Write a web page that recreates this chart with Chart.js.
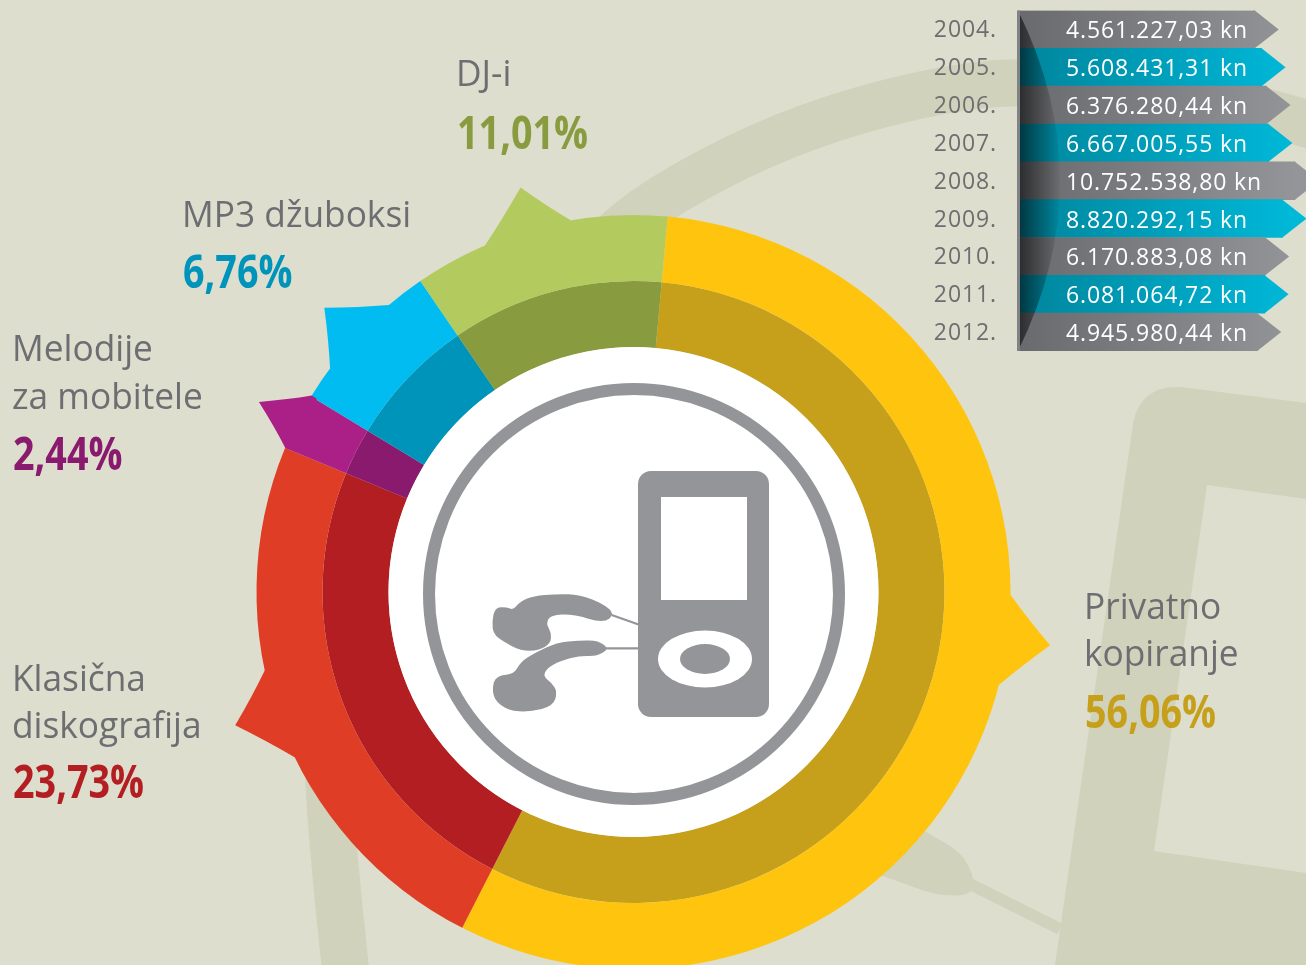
<!DOCTYPE html>
<html>
<head>
<meta charset="utf-8">
<script src="https://cdn.jsdelivr.net/npm/chart.js@4"></script>
<style>
  html, body { margin: 0; padding: 0; width: 1306px; height: 965px; overflow: hidden; background: #dddecd; }
  canvas { position: absolute; display: block; }
</style>
</head>
<body>
<canvas id="shareChart" width="1306" height="965" style="left:0;top:0"></canvas>
<canvas id="yearChart" width="376" height="361" style="left:930px;top:0"></canvas>
<script>
const categories = [['Privatno', 'kopiranje'], ['Klasična', 'diskografija'], ['Melodije', 'za mobitele'], ['MP3 džuboksi'], ['DJ-i']];
const shares = [56.06, 23.73, 2.44, 6.76, 11.01];
const years = ['2004.', '2005.', '2006.', '2007.', '2008.', '2009.', '2010.', '2011.', '2012.'];
const amounts = [4561227.03, 5608431.31, 6376280.44, 6667005.55, 10752538.80, 8820292.15, 6170883.08, 6081064.72, 4945980.44];

const lightColors = ['#ffc40d', '#e03d26', '#ab2087', '#00bcf1', '#b2ca5e'];
const darkColors = ['#c6a01b', '#b31e23', '#891a6e', '#0094ba', '#889b3e'];
const textGrey = '#6d6e71';
const iconGrey = '#939598';
const shapeColor = '#d1d2bc';
const bgColor = '#dddecd';

// spikes on the outer ring, clock degrees
const spikeFrom = [90.4, 244, 292.5, 306.4, 336.8];
const spikeTip = [97.3, 251.5, 296.9, 312.6, 344.4];
const spikeTo = [104.3, 258, 301.4, 319.6, 350.4];
const labelPos = [[1084, 619, 47, 728], [12, 691, 47, 798], [12, 361, 48, 470], [182, 227, 0, 288], [456, 86, 0, 149]];

function smoothOpen(ctx, pts) {
  ctx.moveTo(pts[0][0], pts[0][1]);
  for (let i = 1; i < pts.length - 1; i++) {
    ctx.quadraticCurveTo(pts[i][0], pts[i][1], (pts[i][0] + pts[i + 1][0]) / 2, (pts[i][1] + pts[i + 1][1]) / 2);
  }
  const last = pts[pts.length - 1];
  ctx.lineTo(last[0], last[1]);
}

function smoothClosed(ctx, pts) {
  const n = pts.length;
  ctx.moveTo((pts[0][0] + pts[1][0]) / 2, (pts[0][1] + pts[1][1]) / 2);
  for (let i = 1; i <= n; i++) {
    const p = pts[i % n], q = pts[(i + 1) % n];
    ctx.quadraticCurveTo(p[0], p[1], (p[0] + q[0]) / 2, (p[1] + q[1]) / 2);
  }
  ctx.closePath();
}

function drawBackdrop(ctx) {
  ctx.fillStyle = bgColor;
  ctx.fillRect(0, 0, 1306, 965);
  ctx.strokeStyle = shapeColor;
  ctx.fillStyle = shapeColor;
  // big headphone band
  ctx.lineWidth = 47;
  ctx.beginPath();
  smoothOpen(ctx, [[350, 1010], [332, 850], [325, 700], [335, 600], [440, 400], [613, 233], [670, 192], [762, 144], [853, 111], [945, 89], [1017, 81], [1150, 85], [1280, 115], [1340, 135]]);
  ctx.stroke();
  // player body and its window
  ctx.beginPath();
  ctx.moveTo(1306, 403);
  ctx.lineTo(1181, 387);
  ctx.quadraticCurveTo(1140, 385, 1133, 424);
  ctx.lineTo(1055, 965);
  ctx.lineTo(1306, 965);
  ctx.closePath();
  ctx.fill();
  ctx.fillStyle = bgColor;
  ctx.beginPath();
  ctx.moveTo(1306, 499);
  ctx.lineTo(1207, 485);
  ctx.lineTo(1154, 851);
  ctx.lineTo(1306, 873);
  ctx.closePath();
  ctx.fill();
  // earbud peeking out under the ring
  ctx.fillStyle = shapeColor;
  ctx.lineWidth = 12;
  ctx.beginPath();
  ctx.moveTo(970, 884);
  ctx.lineTo(1060, 929);
  ctx.stroke();
  ctx.beginPath();
  smoothClosed(ctx, [[880, 800], [925, 832], [962, 852], [975, 880], [970, 896], [935, 895], [900, 882], [860, 868]]);
  ctx.fill();
}

function drawPlayer(ctx, cx, cy) {
  ctx.fillStyle = '#ffffff';
  ctx.beginPath();
  ctx.arc(cx, cy, 245, 0, Math.PI * 2);
  ctx.fill();
  ctx.strokeStyle = iconGrey;
  ctx.lineWidth = 12;
  ctx.beginPath();
  ctx.arc(cx + 0.5, cy + 2, 205, 0, Math.PI * 2);
  ctx.stroke();

  ctx.fillStyle = iconGrey;
  ctx.beginPath();
  ctx.roundRect(638, 471, 131, 246, 13);
  ctx.fill();
  ctx.fillStyle = '#ffffff';
  ctx.fillRect(661, 497, 86, 103);
  ctx.beginPath();
  ctx.ellipse(705, 659, 47, 28.5, 0, 0, Math.PI * 2);
  ctx.fill();
  ctx.fillStyle = iconGrey;
  ctx.beginPath();
  ctx.ellipse(705, 659, 25, 15, 0, 0, Math.PI * 2);
  ctx.fill();

  // earbuds, traced at 3x
  ctx.save();
  ctx.translate(480, 460);
  ctx.scale(1 / 3, 1 / 3);
  ctx.beginPath();
  smoothClosed(ctx, [[405, 462], [370, 432], [300, 404], [230, 402], [160, 408], [120, 425], [100, 450], [80, 441], [45, 442], [36, 485], [40, 522], [70, 545], [122, 572], [176, 572], [212, 550], [214, 518], [198, 490], [212, 465], [280, 462], [370, 490]]);
  ctx.fill();
  ctx.beginPath();
  smoothClosed(ctx, [[388, 566], [355, 542], [300, 541], [230, 548], [165, 578], [122, 606], [102, 642], [55, 646], [38, 670], [40, 718], [85, 752], [150, 756], [220, 738], [232, 695], [215, 668], [190, 650], [200, 625], [240, 603], [300, 587], [350, 589]]);
  ctx.fill();
  ctx.strokeStyle = iconGrey;
  ctx.lineWidth = 7;
  ctx.beginPath();
  ctx.moveTo(395, 465);
  ctx.lineTo(480, 495);
  ctx.moveTo(375, 565);
  ctx.lineTo(480, 565);
  ctx.stroke();
  ctx.restore();
}

function drawSpikes(chart) {
  const ctx = chart.ctx;
  const arcs = chart.getDatasetMeta(0).data;
  arcs.forEach((arc, i) => {
    const R = arc.outerRadius;
    const tipR = R + 43;
    const pt = (deg, r) => {
      const a = (deg - 90) * Math.PI / 180;
      return [arc.x + r * Math.cos(a), arc.y + r * Math.sin(a)];
    };
    const a0 = pt(spikeFrom[i], R), a1 = pt(spikeTo[i], R), t = pt(spikeTip[i], tipR);
    const c0 = pt((spikeFrom[i] + spikeTip[i]) / 2, R + 18), c1 = pt((spikeTo[i] + spikeTip[i]) / 2, R + 18);
    const in0 = pt(spikeFrom[i], R - 6), in1 = pt(spikeTo[i], R - 6);
    ctx.fillStyle = lightColors[i];
    ctx.beginPath();
    ctx.moveTo(in0[0], in0[1]);
    ctx.lineTo(a0[0], a0[1]);
    ctx.quadraticCurveTo(c0[0], c0[1], t[0], t[1]);
    ctx.quadraticCurveTo(c1[0], c1[1], a1[0], a1[1]);
    ctx.lineTo(in1[0], in1[1]);
    ctx.closePath();
    ctx.fill();
  });
}

function condensed(ctx, text, x, y, widthScale) {
  ctx.save();
  ctx.translate(x, y);
  ctx.scale(widthScale, 1);
  ctx.fillText(text, 0, 0);
  ctx.restore();
}

function drawLabels(ctx) {
  ctx.textAlign = 'left';
  ctx.textBaseline = 'alphabetic';
  categories.forEach((lines, i) => {
    const [x, y, step, pctY] = labelPos[i];
    ctx.fillStyle = textGrey;
    ctx.font = '36px "Open Sans"';
    lines.forEach((line, j) => condensed(ctx, line, x, y + j * step, 0.98));
    ctx.fillStyle = darkColors[i];
    ctx.font = 'bold 46px "Open Sans"';
    condensed(ctx, shares[i].toFixed(2).replace('.', ',') + '%', x + 1, pctY, 0.82);
  });
}

const sharePlugin = {
  id: 'sharePlugin',
  beforeDraw(chart) {
    drawBackdrop(chart.ctx);
  },
  afterDatasetsDraw(chart) {
    const ctx = chart.ctx;
    const arc = chart.getDatasetMeta(0).data[0];
    ctx.save();
    drawSpikes(chart);
    drawPlayer(ctx, arc.x, arc.y);
    drawLabels(ctx);
    ctx.restore();
  }
};

new Chart(document.getElementById('shareChart'), {
  type: 'doughnut',
  data: {
    labels: categories.map(c => c.join(' ')),
    datasets: [
      { data: shares, backgroundColor: lightColors, borderWidth: 0 },
      { data: shares, backgroundColor: darkColors, borderWidth: 0 }
    ]
  },
  plugins: [sharePlugin],
  options: {
    responsive: false,
    animation: false,
    rotation: 5.2,
    radius: 377,
    cutout: (245 / 377 * 100) + '%',
    layout: { padding: { left: 0, right: 39, top: 219, bottom: 0 } },
    plugins: { legend: { display: false }, tooltip: { enabled: false } }
  }
});

function formatKn(v) {
  const [whole, dec] = v.toFixed(2).split('.');
  return whole.replace(/\B(?=(\d{3})+$)/g, '.') + ',' + dec + ' kn';
}

function rowFill(ctx) {
  const area = ctx.chart.chartArea;
  if (!area) return '#808285';
  const g = ctx.chart.ctx.createLinearGradient(area.left, 0, area.right - 10, 0);
  if (ctx.dataIndex % 2) {
    g.addColorStop(0, '#00859c');
    g.addColorStop(1, '#00b9d9');
  } else {
    g.addColorStop(0, '#696a6d');
    g.addColorStop(1, '#939598');
  }
  return g;
}

const rowPlugin = {
  id: 'rowPlugin',
  beforeDraw(chart) {
    chart.ctx.letterSpacing = '0.9px';
    // nudge the year ticks down to sit with the amounts
    chart.ctx.translate(0, 1.5);
  },
  beforeDatasetsDraw(chart) {
    chart.ctx.translate(0, -1.5);
  },
  afterDatasetsDraw(chart) {
    const ctx = chart.ctx;
    const area = chart.chartArea;
    const bars = chart.getDatasetMeta(0).data;
    ctx.save();
    // arrow heads on the ends of the bars
    bars.forEach((bar, i) => {
      ctx.fillStyle = bar.options.backgroundColor;
      ctx.beginPath();
      ctx.moveTo(bar.x - 1, bar.y - bar.height / 2);
      ctx.lineTo(bar.x, bar.y - bar.height / 2);
      ctx.lineTo(bar.x + 24, bar.y);
      ctx.lineTo(bar.x, bar.y + bar.height / 2);
      ctx.lineTo(bar.x - 1, bar.y + bar.height / 2);
      ctx.closePath();
      ctx.fill();
    });
    // dark lens over the left end
    const shade = ctx.createLinearGradient(area.left, 0, area.left + 42, 0);
    shade.addColorStop(0, 'rgba(0,0,0,0.6)');
    shade.addColorStop(1, 'rgba(0,0,0,0.03)');
    ctx.fillStyle = shade;
    ctx.beginPath();
    ctx.moveTo(area.left, area.top);
    ctx.quadraticCurveTo(area.left + 84, (area.top + area.bottom) / 2, area.left, area.bottom);
    ctx.closePath();
    ctx.fill();
    ctx.fillStyle = '#808285';
    ctx.fillRect(area.left - 1, area.top, 3, area.bottom - area.top);
    // amounts
    ctx.fillStyle = '#ffffff';
    ctx.font = '23px "Open Sans"';
    ctx.textAlign = 'left';
    ctx.textBaseline = 'middle';
    bars.forEach((bar, i) => ctx.fillText(formatKn(amounts[i]), area.left + 48, bar.y + 2.5));
    ctx.restore();
  }
};

const axisMin = -31920000;
const axisMax = 12460000;

new Chart(document.getElementById('yearChart'), {
  type: 'bar',
  data: {
    labels: years,
    datasets: [{
      data: amounts,
      base: axisMin,
      backgroundColor: rowFill,
      borderWidth: 0,
      barPercentage: 1,
      categoryPercentage: 1
    }]
  },
  plugins: [rowPlugin],
  options: {
    indexAxis: 'y',
    responsive: false,
    animation: false,
    layout: { padding: { top: 10.5, bottom: 10, left: 0, right: 0 } },
    scales: {
      x: { display: false, min: axisMin, max: axisMax },
      y: {
        grid: { display: false, drawTicks: false },
        border: { display: false },
        ticks: { color: textGrey, font: { family: '"Open Sans"', size: 23 }, padding: 21, autoSkip: false },
        afterFit(scale) {
          scale.width = 88;
          scale.paddingTop = 0;
          scale.paddingBottom = 0;
        }
      }
    },
    plugins: { legend: { display: false }, tooltip: { enabled: false } }
  }
});
</script>
</body>
</html>
